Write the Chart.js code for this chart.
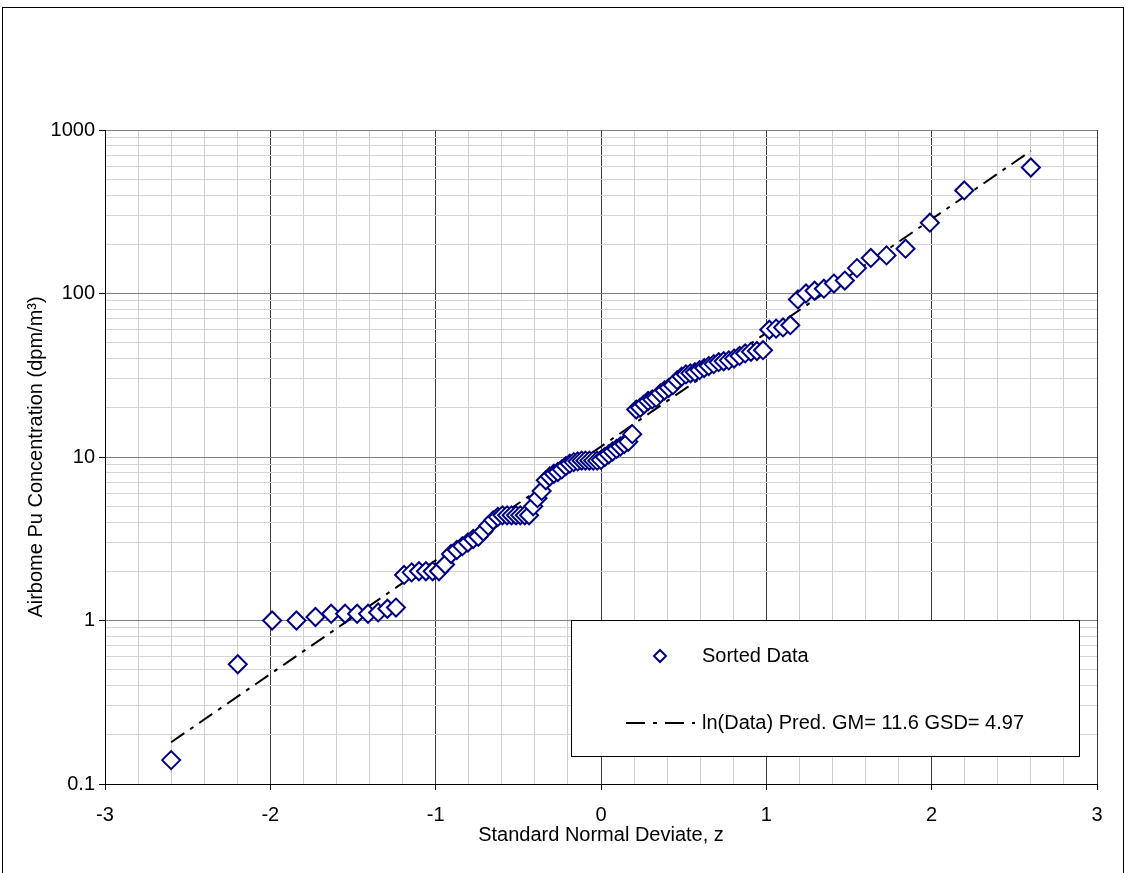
<!DOCTYPE html>
<html>
<head>
<meta charset="utf-8">
<script src="https://cdn.jsdelivr.net/npm/chart.js@4/dist/chart.umd.min.js"></script>
<style>
  html, body { margin: 0; padding: 0; background: #ffffff; }
  #wrap { width: 1126px; height: 873px; position: relative; }
</style>
</head>
<body>
<div id="wrap"><canvas id="c" width="1126" height="873"></canvas></div>
<script>
// ---- Data ----
const zValues = [
  -2.600, -2.197, -1.989, -1.842, -1.727, -1.632, -1.548, -1.475, -1.409, -1.348,
  -1.292, -1.240, -1.191, -1.145, -1.101, -1.059, -1.018, -0.980, -0.943, -0.907,
  -0.872, -0.838, -0.805, -0.773, -0.742, -0.712, -0.682, -0.652, -0.624, -0.596,
  -0.568, -0.541, -0.514, -0.488, -0.461, -0.435, -0.410, -0.384, -0.359, -0.334,
  -0.310, -0.285, -0.261, -0.237, -0.213, -0.189, -0.165, -0.141, -0.117, -0.094,
  -0.070, -0.047, -0.023, 0.000, 0.023, 0.047, 0.070, 0.094, 0.117, 0.141,
  0.165, 0.189, 0.213, 0.237, 0.261, 0.285, 0.310, 0.334, 0.359, 0.384,
  0.410, 0.435, 0.461, 0.488, 0.514, 0.541, 0.568, 0.596, 0.624, 0.652,
  0.682, 0.712, 0.742, 0.773, 0.805, 0.838, 0.872, 0.907, 0.943, 0.980,
  1.018, 1.059, 1.101, 1.145, 1.191, 1.240, 1.292, 1.348, 1.409, 1.475,
  1.548, 1.632, 1.727, 1.842, 1.989, 2.197, 2.600
];
const concValues = [
  0.14, 0.54, 1.0, 1.0, 1.05, 1.1, 1.1, 1.1, 1.1, 1.12,
  1.18, 1.2, 1.9, 1.97, 2.0, 2.0, 2.0, 2.0, 2.2, 2.55,
  2.7, 2.85, 3.0, 3.15, 3.25, 3.5, 3.8, 4.1, 4.3, 4.4,
  4.4, 4.4, 4.4, 4.4, 4.4, 4.4, 5.0, 5.6, 6.2, 7.2,
  7.6, 7.9, 8.1, 8.4, 8.8, 9.1, 9.3, 9.4, 9.5, 9.5,
  9.5, 9.5, 9.5, 9.6, 10.0, 10.4, 10.8, 11.2, 11.6, 12.0,
  12.4, 13.8, 19.5, 20, 21, 22, 22.5, 23, 24.5, 25.5,
  26.5, 27.5, 29.5, 31, 32, 32.5, 33, 34, 35, 36,
  37, 38, 38.5, 39, 40, 41.5, 43, 44, 44.5, 45,
  60, 61, 62, 64, 92, 100, 104, 107, 115, 120,
  143, 165, 171, 188, 271, 427, 590
];
const predZ = [-2.6, 2.6];
const predValues = [0.18, 745];

const xTickLabels = ['-3', '-2', '-1', '0', '1', '2', '3'];
const yTickLabels = ['0.1', '1', '10', '100', '1000'];

const seriesNames = ['Sorted Data', 'ln(Data) Pred. GM= 11.6 GSD= 4.97'];
const xTitle = 'Standard Normal Deviate, z';
const yTitle = 'Airbome Pu Concentration (dpm/m\u00B3)';

// ---- Build library structures ----
const scatterPts = zValues.map((z, i) => ({ x: z, y: concValues[i] }));
const predPts = predZ.map((z, i) => ({ x: z, y: predValues[i] }));

const xMajor = xTickLabels.map(Number);
const yMajor = yTickLabels.map(Number);
const xAllTicks = [];
for (let i = 0; i <= 30; i++) xAllTicks.push(Math.round((xMajor[0] + i * 0.2) * 10) / 10);
const yAllTicks = [];
for (let d = 0; d < yMajor.length - 1; d++) {
  for (let k = 1; k <= 9; k++) yAllTicks.push(parseFloat((yMajor[d] * k).toPrecision(6)));
}
yAllTicks.push(yMajor[yMajor.length - 1]);

const isXMajor = v => xMajor.some(m => Math.abs(m - v) < 1e-6);
const isYMajor = v => yMajor.some(m => Math.abs(Math.log10(m) - Math.log10(v)) < 1e-6);

const FONT = '"Liberation Sans", Arial, sans-serif';
const NAVY = '#000080';
const FS = 20;

const frame = {
  id: 'frame',
  afterDraw(chart) {
    const ctx = chart.ctx;
    ctx.save();
    ctx.strokeStyle = '#000';
    ctx.lineWidth = 1;
    ctx.strokeRect(2.5, 7.5, 1121, 900);
    ctx.restore();
  }
};

const boxLegend = {
  id: 'boxLegend',
  afterDraw(chart) {
    const ctx = chart.ctx;
    const ds = chart.data.datasets;
    const L = 571.5, T = 620.5, W = 508, H = 136;
    ctx.save();
    ctx.fillStyle = '#fff';
    ctx.fillRect(L, T, W, H);
    ctx.strokeStyle = '#000';
    ctx.lineWidth = 1;
    ctx.strokeRect(L, T, W, H);
    ctx.font = FS + 'px ' + FONT;
    ctx.fillStyle = '#000';
    ctx.textBaseline = 'middle';
    ctx.textAlign = 'left';
    // marker entry
    const my = 656, mx = 660, r = 6;
    ctx.beginPath();
    ctx.moveTo(mx - r, my); ctx.lineTo(mx, my - r); ctx.lineTo(mx + r, my); ctx.lineTo(mx, my + r); ctx.closePath();
    ctx.fillStyle = '#fff'; ctx.fill();
    ctx.strokeStyle = ds[0].borderColor; ctx.lineWidth = 2; ctx.stroke();
    ctx.fillStyle = '#000';
    ctx.fillText(ds[0].label, 702, my);
    // line entry
    const ly = 723;
    ctx.beginPath();
    ctx.setLineDash([19, 8, 4, 8]);
    ctx.strokeStyle = ds[1].borderColor; ctx.lineWidth = 2;
    ctx.moveTo(626, ly); ctx.lineTo(695, ly); ctx.stroke();
    ctx.setLineDash([]);
    ctx.fillText(ds[1].label, 702, ly);
    ctx.restore();
  }
};

new Chart(document.getElementById('c'), {
  type: 'scatter',
  data: {
    datasets: [
      {
        label: seriesNames[0],
        data: scatterPts,
        order: 0,
        pointStyle: 'rectRot',
        pointRadius: 9,
        pointHoverRadius: 9,
        pointBorderWidth: 2,
        borderColor: NAVY,
        backgroundColor: '#ffffff',
        showLine: false
      },
      {
        type: 'line',
        label: seriesNames[1],
        data: predPts,
        order: 1,
        borderColor: '#000000',
        borderWidth: 2,
        borderDash: [16, 7, 4, 7],
        pointRadius: 0,
        fill: false,
        tension: 0
      }
    ]
  },
  options: {
    responsive: false,
    animation: false,
    events: [],
    layout: { padding: { top: 130, right: 29, left: 0, bottom: 0 } },
    plugins: { legend: { display: false }, tooltip: { enabled: false } },
    scales: {
      x: {
        type: 'linear',
        min: -3, max: 3,
        afterFit(s) { s.height = 89; },
        afterBuildTicks(s) { s.ticks = xAllTicks.map(v => ({ value: v })); },
        border: { display: true, color: '#000', width: 1 },
        grid: {
          color: c => isXMajor(c.tick.value) ? '#3a3a3a' : '#cfcfcf',
          tickColor: c => isXMajor(c.tick.value) ? '#000' : 'rgba(0,0,0,0)',
          tickLength: 6,
          lineWidth: 1
        },
        ticks: {
          autoSkip: false,
          maxRotation: 0,
          padding: 13,
          color: '#000',
          font: { family: FONT, size: FS },
          callback: v => isXMajor(v) ? xTickLabels[xMajor.findIndex(m => Math.abs(m - v) < 1e-6)] : ''
        },
        title: {
          display: true,
          text: xTitle,
          color: '#000',
          font: { family: FONT, size: FS },
          padding: { top: 0, bottom: 26 }
        }
      },
      y: {
        type: 'logarithmic',
        min: 0.1, max: 1000,
        afterFit(s) { s.width = 105; },
        afterBuildTicks(s) { s.ticks = yAllTicks.map(v => ({ value: v })); },
        border: { display: true, color: '#000', width: 1 },
        grid: {
          color: c => isYMajor(c.tick.value) ? '#808080' : '#d6d6d6',
          tickColor: c => isYMajor(c.tick.value) ? '#000' : 'rgba(0,0,0,0)',
          tickLength: 6,
          lineWidth: 1
        },
        ticks: {
          autoSkip: false,
          padding: 4,
          color: '#000',
          font: { family: FONT, size: FS },
          callback: v => isYMajor(v) ? yTickLabels[yMajor.findIndex(m => Math.abs(Math.log10(m) - Math.log10(v)) < 1e-6)] : ''
        },
        title: {
          display: true,
          text: yTitle,
          color: '#000',
          font: { family: FONT, size: FS },
          padding: { top: 24, bottom: 0 }
        }
      }
    }
  },
  plugins: [frame, boxLegend]
});
</script>
</body>
</html>
